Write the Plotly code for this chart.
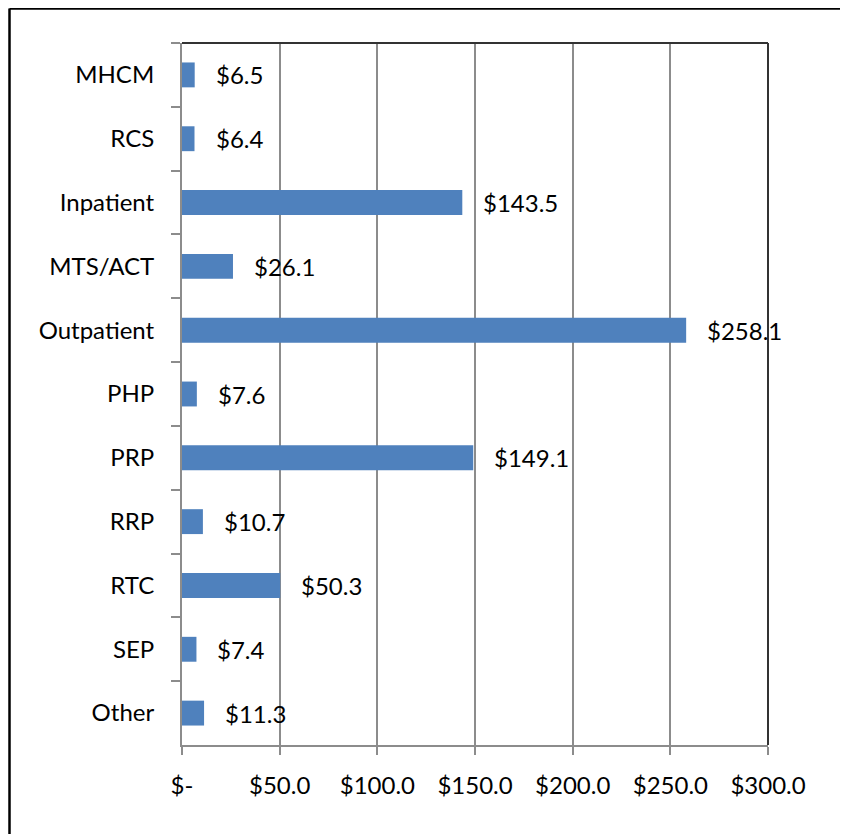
import plotly.graph_objects as go

categories = ["MHCM", "RCS", "Inpatient", "MTS/ACT", "Outpatient", "PHP",
              "PRP", "RRP", "RTC", "SEP", "Other"]
values = [6.5, 6.4, 143.5, 26.1, 258.1, 7.6, 149.1, 10.7, 50.3, 7.4, 11.3]
labels = ["$6.5", "$6.4", "$143.5", "$26.1", "$258.1", "$7.6", "$149.1",
          "$10.7", "$50.3", "$7.4", "$11.3"]
tick_vals = [0, 50, 100, 150, 200, 250, 300]
tick_text = ["$-", "$50.0", "$100.0", "$150.0", "$200.0", "$250.0", "$300.0"]

font = dict(family="Lato, Open Sans, sans-serif", size=24, color="black")

fig = go.Figure(go.Bar(
    x=values, y=categories, orientation="h",
    marker=dict(color="#4F81BD", line=dict(width=0)),
    hoverinfo="x+y",
))

# data labels to the right of each bar
for cat, val, lab in zip(categories, values, labels):
    fig.add_annotation(x=val, y=cat, text=lab, showarrow=False,
                       xanchor="left", xshift=19, font=font)

fig.update_layout(
    width=848, height=834,
    margin=dict(l=174, r=88, t=35, b=97),
    paper_bgcolor="white", plot_bgcolor="white",
    bargap=0.61,
    showlegend=False,
    font=font,
)

fig.update_xaxes(
    range=[0, 300], tickvals=tick_vals, ticktext=tick_text,
    showgrid=True, gridcolor="#8c8c8c", gridwidth=1.5,
    showline=True, linecolor="#8c8c8c", linewidth=2,
    ticks="outside", ticklen=8, tickcolor="#8c8c8c", tickwidth=2,
    ticklabelstandoff=10, zeroline=False, tickfont=font,
)
fig.update_yaxes(
    autorange="reversed",
    showline=True, linecolor="#8c8c8c", linewidth=2,
    ticks="outside", tickson="boundaries", ticklen=9,
    tickcolor="#8c8c8c", tickwidth=2,
    ticklabelstandoff=21, showgrid=False, tickfont=font,
)

# dark top/right border of the plot area
fig.add_shape(type="line", xref="paper", yref="paper", x0=0, x1=1, y0=1, y1=1,
              line=dict(color="#333333", width=2))
fig.add_shape(type="line", xref="paper", yref="paper", x0=1, x1=1, y0=0, y1=1,
              line=dict(color="#333333", width=2))
# outer chart frame: only the left and top edges are in the picture
fx0 = (1.5 - 174) / 586
fx1 = (842 - 174) / 586
fy1 = (737 - 0.5) / 702
fy0 = (737 - 836) / 702
fig.add_shape(type="line", xref="paper", yref="paper",
              x0=fx0, x1=fx1, y0=fy1, y1=fy1,
              line=dict(color="black", width=2.5), layer="above")
fig.add_shape(type="line", xref="paper", yref="paper",
              x0=fx0, x1=fx0, y0=fy0, y1=fy1,
              line=dict(color="black", width=2.5), layer="above")

fig.write_html("out.html")
